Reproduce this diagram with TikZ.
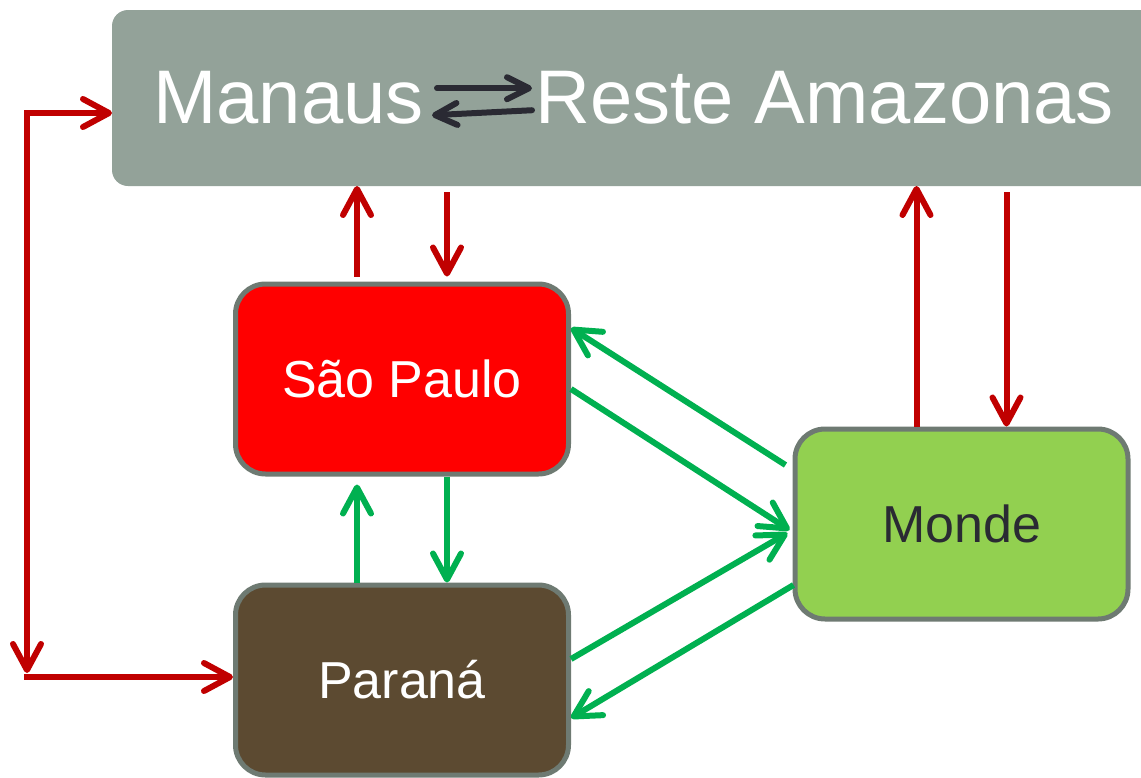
\documentclass[tikz,border=0pt]{standalone}
\usepackage{fontspec}
\setmainfont{Liberation Sans}
\usetikzlibrary{arrows.meta,calc}

\definecolor{topgray}{HTML}{93A299}
\definecolor{boxgray}{HTML}{6E7A72}
\definecolor{spred}{HTML}{FF0000}
\definecolor{pabrown}{HTML}{5C4A31}
\definecolor{mogreen}{HTML}{92D050}
\definecolor{arrowred}{HTML}{C00000}
\definecolor{arrowgreen}{HTML}{00B050}
\definecolor{darktext}{HTML}{2A2A33}

\tikzset{
	box/.style={draw=boxgray, line width=5pt, rounded corners=30pt, minimum width=333pt, minimum height=190pt, inner sep=0pt, font=\fontsize{52}{60}\selectfont},
	redarrow/.style={draw=arrowred, line width=6pt, -{Straight Barb[length=26pt,width=28pt,round]}},
	greenarrow/.style={draw=arrowgreen, line width=6pt, -{Straight Barb[length=26pt,width=28pt,round]}},
	darkarrow/.style={draw=darktext, line width=6pt, line cap=round, -{Straight Barb[length=22pt,width=22pt,round]}},
	bigtext/.style={inner sep=0pt, text=white, font=\fontsize{76}{86}\selectfont}
}

\begin{document}
\begin{tikzpicture}[x=1pt, y=-1pt]
	
	\useasboundingbox (0,0) rectangle (1141,777);
	\clip (0,0) rectangle (1141,777);
	
	% Amazonas box
	\node[fill=topgray, rounded corners=16pt, minimum width=1048pt, minimum height=176pt, inner sep=0pt, outer sep=0pt] (top) at (636,98) {};
	\node[bigtext, anchor=base east] (manaus) at (424,123) {Manaus};
	\node[bigtext, anchor=base west] (reste) at (535,123) {Reste Amazonas};
	
	% Arrows inside the Amazonas box
	\draw[darkarrow] ($(manaus.east)+(13,-9)$) -- ($(reste.west)+(-3,-9)$);
	\draw[darkarrow] ($(reste.west)+(-3,13)$) -- ($(manaus.east)+(8,18)$);
	
	% Regions
	\node[box, fill=spred, text=white] (sp) at (402,379) {São Paulo};
	\node[box, fill=pabrown, text=white] (pa) at (402,680) {Paraná};
	\node[box, fill=mogreen, text=darktext] (monde) at (961.5,524) {Monde};
	
	% Red links with Amazonas
	\draw[redarrow] ($(sp.north)+(-45,-5)$) -- ($(sp.north |- top.south)+(-45,0)$);
	\draw[redarrow] ($(sp.north |- top.south)+(45,6)$) -- ($(sp.north)+(45,-5)$);
	\draw[redarrow] ($(monde.north)+(-45,0)$) -- ($(monde.north |- top.south)+(-45,0)$);
	\draw[redarrow] ($(monde.north |- top.south)+(45,6)$) -- ($(monde.north)+(45,0)$);
	
	% Red link along the left side
	\coordinate (lt) at (27,113);
	\coordinate (lb) at (27,677);
	\draw[redarrow] ($(lt)+(-3,0)$) -- (lt -| top.west);
	\draw[redarrow] ($(lt)+(0,-3)$) -- ($(lb)+(0,-4)$);
	\draw[redarrow] ($(lb)+(-3,0)$) -- (lb -| pa.west);
	
	% Green links between regions
	\draw[greenarrow] ($(pa.north)+(-45,0)$) -- ($(sp.south)+(-45,8)$);
	\draw[greenarrow] ($(sp.south)+(45,0)$) -- ($(pa.north)+(45,0)$);
	\draw[greenarrow] ($(monde.west)+(-7,-59)$) -- ($(sp.east)+(0,-51)$);
	\draw[greenarrow] ($(sp.east)+(0,10)$) -- ($(monde.west)+(-3,6)$);
	\draw[greenarrow] ($(pa.east)+(0,-21)$) -- ($(monde.west)+(-5,9)$);
	\draw[greenarrow] ($(monde.west)+(1,61)$) -- ($(pa.east)+(0,38)$);
	
\end{tikzpicture}
\end{document}
